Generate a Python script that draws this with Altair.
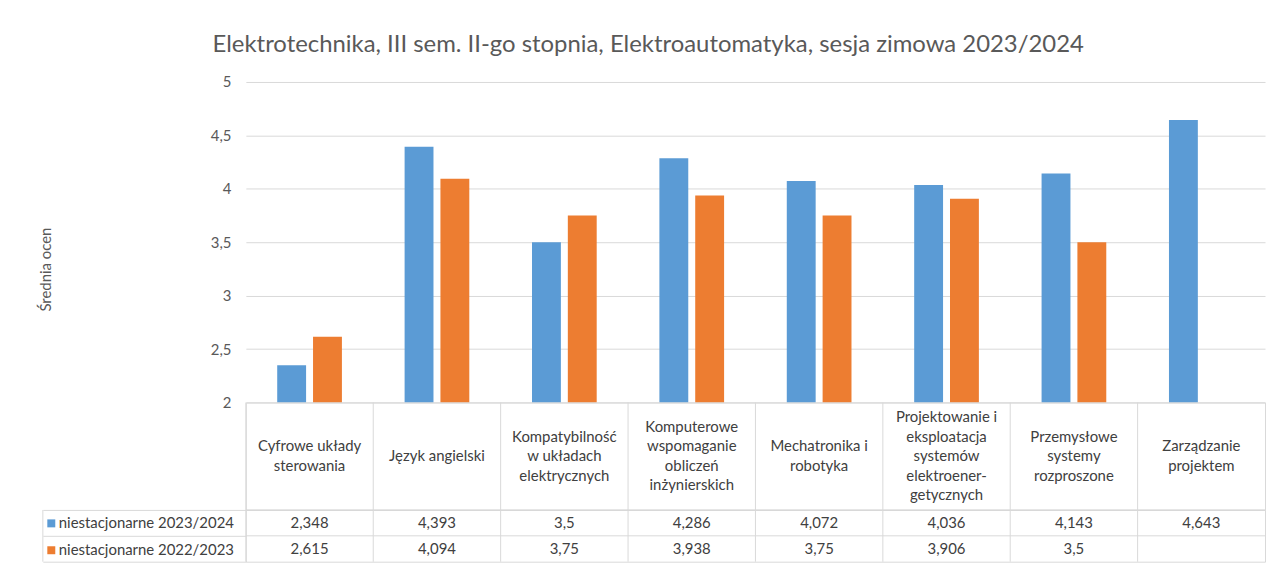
import altair as alt
import pandas as pd

title_text = "Elektrotechnika, III sem. II-go stopnia, Elektroautomatyka, sesja zimowa 2023/2024"
y_title = "Średnia ocen"

categories = [
    "Cyfrowe układy sterowania",
    "Język angielski",
    "Kompatybilność w układach elektrycznych",
    "Komputerowe wspomaganie obliczeń inżynierskich",
    "Mechatronika i robotyka",
    "Projektowanie i eksploatacja systemów elektroenergetycznych",
    "Przemysłowe systemy rozproszone",
    "Zarządzanie projektem",
]
header_labels = [
    "Cyfrowe układy\nsterowania",
    "Język angielski",
    "Kompatybilność\nw układach\nelektrycznych",
    "Komputerowe\nwspomaganie\nobliczeń\ninżynierskich",
    "Mechatronika i\nrobotyka",
    "Projektowanie i\neksploatacja\nsystemów\nelektroener-\ngetycznych",
    "Przemysłowe\nsystemy\nrozproszone",
    "Zarządzanie\nprojektem",
]
series = ["niestacjonarne 2023/2024", "niestacjonarne 2022/2023"]
values_2023_2024 = [2.348, 4.393, 3.5, 4.286, 4.072, 4.036, 4.143, 4.643]
values_2022_2023 = [2.615, 4.094, 3.75, 3.938, 3.75, 3.906, 3.5, None]
colors = ["#5B9BD5", "#ED7D31"]
y_ticks = [2, 2.5, 3, 3.5, 4, 4.5, 5]

rows = []
for s, vals in zip(series, [values_2023_2024, values_2022_2023]):
    for c, v in zip(categories, vals):
        rows.append({
            "category": c,
            "series": s,
            "value": v,
            "label": "" if v is None else str(v).replace(".", ","),
        })
df = pd.DataFrame(rows)
df_bars = df[df["value"].notna()].copy()
df_cat = pd.DataFrame({"category": categories, "header": header_labels})

FONT = "Lato"
TXT = "#404040"
GRID = "#d9d9d9"
W = 1024
HEADER_H = 108
LINE_H = 19.5

x_enc = alt.X("category:N", sort=categories,
              scale=alt.Scale(domain=categories, paddingInner=0, paddingOuter=0),
              axis=None)

bars = alt.Chart(df_bars).mark_bar().encode(
    x=x_enc,
    xOffset=alt.XOffset("series:N", sort=series,
                        scale=alt.Scale(domain=series, paddingInner=0.194, paddingOuter=0.875)),
    y=alt.Y("value:Q",
            scale=alt.Scale(domain=[2, 5], zero=False),
            axis=alt.Axis(values=y_ticks, title=y_title,
                          labelExpr="replace(format(datum.value, '.1~f'), '.', ',')",
                          grid=True, gridColor=GRID, domain=False, ticks=False,
                          labelColor="#595959", labelFontSize=15, labelPadding=15,
                          titleColor="#595959", titleFontSize=15, titleFontWeight="normal",
                          titleX=-201, titleY=188, titleBaseline="middle")),
    y2=alt.datum(2),
    color=alt.Color("series:N", sort=series, scale=alt.Scale(domain=series, range=colors),
                    legend=None),
).properties(width=W, height=322, view=alt.ViewConfig(stroke="transparent"))

header_text = alt.Chart(df_cat).transform_calculate(
    nlines="length(split(datum.header, '\\n'))"
).transform_calculate(
    ypix=f"{HEADER_H / 2} - (datum.nlines - 1) * {LINE_H / 2}"
).mark_text(
    lineBreak="\n", fontSize=15, color=TXT, baseline="middle", lineHeight=LINE_H
).encode(x=x_enc, y=alt.Y("ypix:Q", scale=None, axis=None), text="header:N")
header_rules = alt.Chart(df_cat).mark_rule(color=GRID).encode(
    x=alt.X("category:N", sort=categories, bandPosition=0,
            scale=alt.Scale(domain=categories, paddingInner=0, paddingOuter=0), axis=None)
)
header = alt.layer(header_rules, header_text).properties(
    width=W, height=HEADER_H, view=alt.ViewConfig(stroke=GRID))

row_axis = alt.Axis(title=None, labels=False, domain=False, tickBand="extent",
                    tickSize=204, tickColor=GRID, grid=False)
row_scale = alt.Scale(domain=series, paddingInner=0, paddingOuter=0)
y_rows = alt.Y("series:N", sort=series, scale=row_scale, axis=row_axis)

vals_text = alt.Chart(df).mark_text(fontSize=15, color=TXT, baseline="middle").encode(
    x=x_enc, y=y_rows, text="label:N")
vals_vrules = alt.Chart(df_cat).mark_rule(color=GRID).encode(
    x=alt.X("category:N", sort=categories, bandPosition=0,
            scale=alt.Scale(domain=categories, paddingInner=0, paddingOuter=0), axis=None)
)
vals_hrules = alt.Chart(pd.DataFrame({"series": series})).mark_rule(color=GRID).encode(
    y=alt.Y("series:N", sort=series, bandPosition=0, scale=row_scale, axis=row_axis)
)
left_border = alt.Chart(pd.DataFrame({"series": series[:1]})).mark_rule(color=GRID).encode(
    x=alt.value(-204))
legend_marks = alt.Chart(df).mark_square(opacity=0).encode(
    x=x_enc, y=y_rows,
    color=alt.Color("series:N", sort=series,
                    scale=alt.Scale(domain=series, range=colors),
                    legend=alt.Legend(title=None, orient="none", legendX=-203, legendY=6,
                                      symbolType="square", symbolSize=64, symbolOpacity=1,
                                      symbolStrokeWidth=0, labelFontSize=15, labelColor=TXT,
                                      labelOffset=0, labelLimit=400, rowPadding=11,
                                      padding=0, labelFont=FONT)),
)
values = alt.layer(vals_hrules, vals_vrules, left_border, legend_marks, vals_text).properties(
    width=W, height=52, view=alt.ViewConfig(stroke=GRID))

chart = alt.vconcat(bars, header, values, spacing=0, bounds="flush").properties(
    title=alt.TitleParams(title_text, fontSize=24, color="#595959", fontWeight="normal",
                          anchor="middle", offset=18, font=FONT, dx=-4),
    padding={"left": 30, "top": 23, "right": 2, "bottom": 2},
).resolve_scale(color="independent").resolve_legend(color="independent").configure(
    font=FONT).configure_axis(labelFont=FONT, titleFont=FONT)

chart.save("out.html", embed_options={"renderer": "svg", "actions": False})
